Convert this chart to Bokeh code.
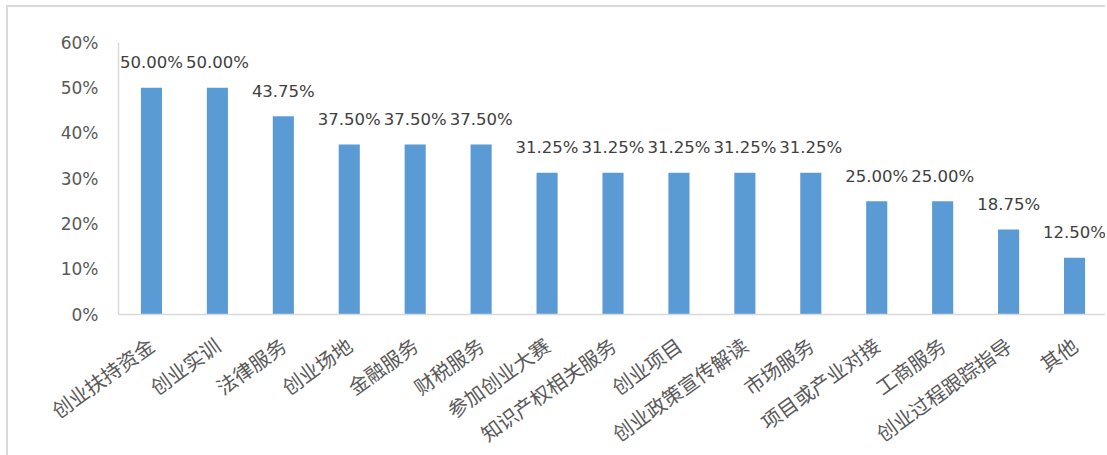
from bokeh.plotting import figure
from bokeh.models import ColumnDataSource, FactorRange, Range1d, NumeralTickFormatter, FixedTicker
from bokeh.core.properties import value
from bokeh.embed import file_html
from bokeh.resources import INLINE

categories = ["创业扶持资金", "创业实训", "法律服务", "创业场地", "金融服务", "财税服务",
              "参加创业大赛", "知识产权相关服务", "创业项目", "创业政策宣传解读", "市场服务",
              "项目或产业对接", "工商服务", "创业过程跟踪指导", "其他"]
shares = [0.50, 0.50, 0.4375, 0.375, 0.375, 0.375, 0.3125, 0.3125, 0.3125, 0.3125, 0.3125,
          0.25, 0.25, 0.1875, 0.125]
y_ticks = [0, 0.1, 0.2, 0.3, 0.4, 0.5, 0.6]

labels = ["%.2f%%" % (v * 100) for v in shares]
src = ColumnDataSource(dict(cat=categories, v=shares, lab=labels))

p = figure(width=1099, height=455, output_backend="svg", toolbar_location=None,
           x_range=FactorRange(*categories), y_range=Range1d(0, 0.6),
           min_border_left=110, min_border_right=0, min_border_top=35, min_border_bottom=141)
p.styles = {"border-left": "2px solid #d9d9d9", "border-top": "2px solid #d9d9d9",
            "margin-left": "6px", "margin-top": "5px", "margin-bottom": "-12px"}
p.outline_line_color = None
p.xgrid.grid_line_color = None
p.ygrid.grid_line_color = None

p.vbar(x="cat", top="v", width=0.32, source=src, fill_color="#5b9bd5", line_color=None)
p.text(x="cat", y="v", text="lab", source=src, text_align="center", text_baseline="middle",
       y_offset=-25, text_font=value("DejaVu Sans"), text_font_size="16.5px", text_color="#404040")

ya = p.yaxis[0]
ya.ticker = FixedTicker(ticks=y_ticks)
ya.formatter = NumeralTickFormatter(format="0%")
ya.axis_line_color = "#d9d9d9"
ya.axis_line_width = 1.5
ya.major_tick_line_color = None
ya.minor_tick_line_color = None
ya.major_tick_out = 0
ya.major_label_standoff = 20
ya.major_label_text_font = "DejaVu Sans"
ya.major_label_text_font_size = "17px"
ya.major_label_text_color = "#595959"

xa = p.xaxis[0]
xa.axis_line_color = "#d9d9d9"
xa.axis_line_width = 1.5
xa.major_tick_line_color = None
xa.minor_tick_line_color = None
xa.major_tick_out = 0
xa.major_label_standoff = 28
xa.major_label_orientation = 0.62
xa.major_label_text_font = "Noto Sans CJK SC"
xa.major_label_text_font_size = "20px"
xa.major_label_text_color = "#595959"

open("out.html", "w").write(file_html(p, INLINE))
